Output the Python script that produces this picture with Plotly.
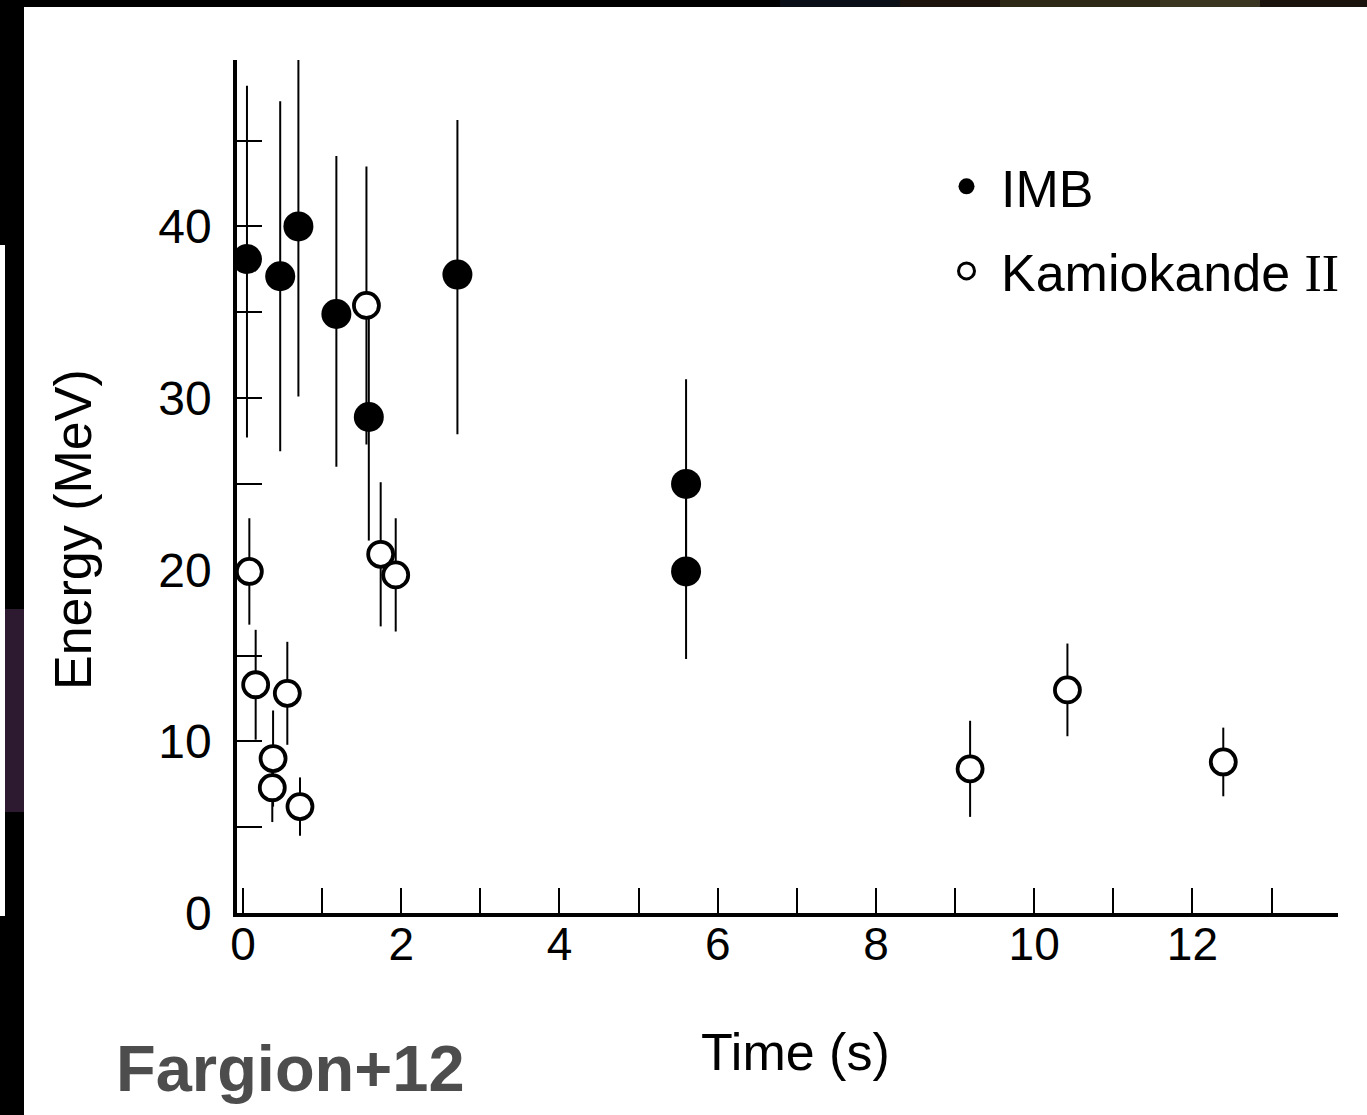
import plotly.graph_objects as go

# ---- data ----
imb_time = [0.05, 0.47, 0.70, 1.18, 1.59, 2.71, 5.60, 5.60]
imb_energy = [38.1, 37.1, 40.0, 34.9, 28.9, 37.2, 25.0, 19.9]
imb_err_plus = [10.1, 10.2, 10.2, 9.2, 7.2, 9.0, 6.1, 5.0]
imb_err_minus = [10.4, 10.2, 9.9, 8.9, 7.2, 9.3, 6.0, 5.1]

kam_time = [0.08, 0.16, 0.38, 0.37, 0.56, 0.72, 1.56, 1.74, 1.93, 9.19, 10.42, 12.39]
kam_energy = [19.9, 13.3, 9.0, 7.3, 12.8, 6.2, 35.4, 20.9, 19.7, 8.4, 13.0, 8.8]
kam_err = [3.1, 3.2, 2.8, 2.0, 3.0, 1.7, 8.1, 4.2, 3.3, 2.8, 2.7, 2.0]

x_ticks = [0, 2, 4, 6, 8, 10, 12]
y_ticks = [0, 10, 20, 30, 40]

# ---- layout geometry (pixels) ----
W, H = 1367, 1115
L, R, T, B = 237, 1338, 60, 913


def px(x):
    return (x - L) / (R - L)


def py(y):
    return (B - y) / (B - T)


FONT = "Liberation Sans, Arial, Helvetica, sans-serif"
ROMAN2 = "<span style='font-family:Liberation Serif'>II</span>"

fig = go.Figure()

fig.add_trace(go.Scatter(
    x=imb_time, y=imb_energy, mode="markers", name="IMB", showlegend=False,
    marker=dict(symbol="circle", size=30, color="black", line=dict(width=0)),
    error_y=dict(type="data", symmetric=False, array=imb_err_plus,
                 arrayminus=imb_err_minus, thickness=2, width=0, color="black"),
))
fig.add_trace(go.Scatter(
    x=kam_time, y=kam_energy, mode="markers", name="Kamiokande II", showlegend=False,
    marker=dict(symbol="circle", size=25, color="white", line=dict(width=3.8, color="black")),
    error_y=dict(type="data", array=kam_err, thickness=2, width=0, color="black"),
))

# legend-only entries (smaller symbols, as in the reference legend)
fig.add_trace(go.Scatter(
    x=[None], y=[None], mode="markers", name="IMB", legendgroup="a",
    marker=dict(symbol="circle", size=20, color="black"),
))
fig.add_trace(go.Scatter(
    x=[None], y=[None], mode="markers", name="Kamiokande " + ROMAN2, legendgroup="b",
    marker=dict(symbol="circle", size=16, color="white", line=dict(width=3, color="black")),
))

band = [  # slide background remnants along the top edge
    (0, 780, "black"), (780, 900, "#0a0f18"), (900, 1000, "#1c140c"),
    (1000, 1160, "#2e2816"), (1160, 1260, "#3a3622"), (1260, 1367, "#1a120c"),
]
shapes = [
    dict(type="rect", xref="paper", yref="paper", x0=px(a), x1=px(b), y0=py(0), y1=py(7),
         fillcolor=c, line=dict(width=0), layer="below") for a, b, c in band
]
shapes += [
    dict(type="rect", xref="paper", yref="paper", x0=px(0), x1=px(24), y0=py(0), y1=py(H),
         fillcolor="black", line=dict(width=0), layer="below"),
    dict(type="rect", xref="paper", yref="paper", x0=px(0), x1=px(5), y0=py(245), y1=py(916),
         fillcolor="white", line=dict(width=0), layer="below"),
    dict(type="rect", xref="paper", yref="paper", x0=px(5), x1=px(24), y0=py(609), y1=py(812),
         fillcolor="#2e1a30", line=dict(width=0), layer="below"),
]

fig.update_layout(
    width=W, height=H,
    margin=dict(l=L, r=W - R, t=T, b=H - B, pad=0, autoexpand=False),
    paper_bgcolor="white", plot_bgcolor="white",
    font=dict(family=FONT, color="black", size=46),
    shapes=shapes,
    showlegend=True,
    legend=dict(
        x=px(932), y=py(146), xanchor="left", yanchor="top",
        bgcolor="rgba(0,0,0,0)", borderwidth=0,
        font=dict(family=FONT, size=52, color="black"),
        tracegroupgap=14, itemwidth=59,
    ),
    annotations=[
        dict(text="<b>Fargion+12</b>", xref="paper", yref="paper",
             x=px(114), y=py(1068), xanchor="left", yanchor="middle", showarrow=False,
             font=dict(family=FONT, size=65, color="#4d4d4d")),
        dict(text="Energy (MeV)", xref="paper", yref="paper", textangle=-90,
             x=px(73), y=py(530), xanchor="center", yanchor="middle", showarrow=False,
             font=dict(family=FONT, size=52, color="black")),
        dict(text="Time (s)", xref="paper", yref="paper",
             x=px(796), y=py(1052), xanchor="center", yanchor="middle", showarrow=False,
             font=dict(family=FONT, size=52, color="black")),
    ],
)

fig.update_xaxes(
    range=[-0.076, 13.84], tickmode="array", tickvals=x_ticks,
    ticktext=[str(v) for v in x_ticks],
    ticks="inside", ticklen=25, tickwidth=2, tickcolor="black",
    minor=dict(ticks="inside", dtick=1, tick0=0, ticklen=25, tickwidth=2, tickcolor="black"),
    showline=True, linewidth=3.5, linecolor="black", showgrid=False, zeroline=False,
    tickfont=dict(size=46), ticklabelstandoff=-12, layer="below traces",
)
fig.update_yaxes(
    range=[0, 49.7], tickmode="array", tickvals=y_ticks,
    ticktext=[str(v) for v in y_ticks],
    ticks="inside", ticklen=25, tickwidth=2, tickcolor="black",
    minor=dict(ticks="inside", dtick=5, tick0=0, ticklen=25, tickwidth=2, tickcolor="black"),
    showline=True, linewidth=3.5, linecolor="black", showgrid=False, zeroline=False,
    tickfont=dict(size=48), ticklabelstandoff=12, layer="below traces",
)

fig.write_html("out.html")
